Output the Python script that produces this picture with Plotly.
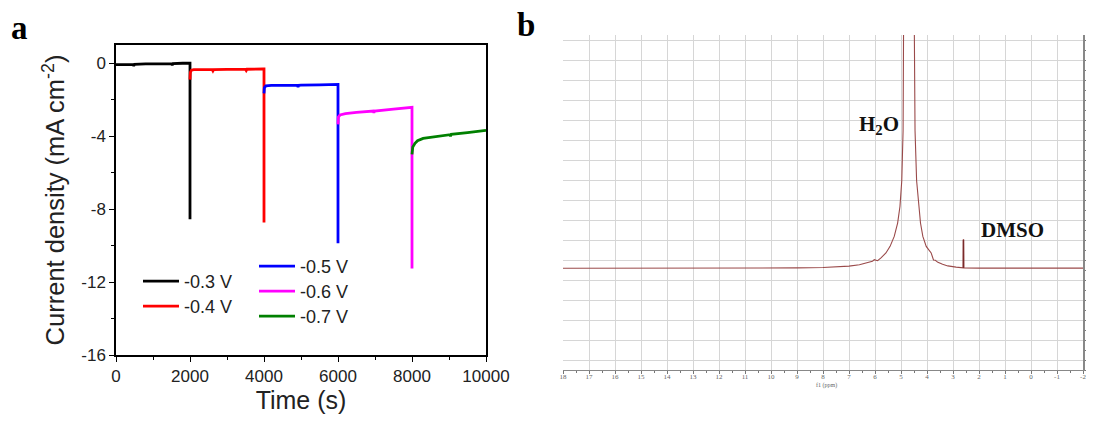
import plotly.graph_objects as go

# ---------------- Panel a data: chronoamperometry ----------------
t_03 = [0, 200, 460, 480, 500, 800, 1200, 1500, 1520, 1540, 1800, 1990, 2000, 2000]
j_03 = [-0.08, -0.07, -0.06, -0.14, -0.06, -0.04, -0.02, -0.02, -0.1, -0.02, 0.0, 0.0, 0.0, -8.56]

t_04 = [2000, 2010, 2040, 2100, 2500, 2600, 2620, 2640, 3000, 3500, 3520, 3540, 3990, 4000, 4000]
j_04 = [-0.9, -0.5, -0.38, -0.35, -0.35, -0.35, -0.42, -0.35, -0.34, -0.33, -0.4, -0.33, -0.31, -0.31, -8.74]

t_05 = [4000, 4010, 4050, 4200, 4900, 4920, 4940, 5000, 5500, 5990, 6000, 6000]
j_05 = [-1.65, -1.35, -1.24, -1.21, -1.21, -1.3, -1.21, -1.2, -1.19, -1.16, -1.16, -9.87]

t_06 = [6000, 6010, 6054, 6200, 6500, 6955, 6970, 6990, 7500, 7946, 7990, 8000, 8000]
j_06 = [-3.35, -2.95, -2.84, -2.76, -2.7, -2.62, -2.72, -2.62, -2.52, -2.44, -2.42, -2.42, -11.25]

t_07 = [8000, 8020, 8081, 8150, 8300, 8570, 9024, 9040, 9060, 9500, 9970, 10000]
j_07 = [-5.0, -4.6, -4.39, -4.25, -4.12, -4.03, -3.92, -4.0, -3.9, -3.8, -3.7, -3.68]

series_names = ["-0.3 V", "-0.4 V", "-0.5 V", "-0.6 V", "-0.7 V"]
series_colors = ["#000000", "#ff0000", "#0000ff", "#ff00ff", "#008000"]

a_xticks = [0, 2000, 4000, 6000, 8000, 10000]
a_xticklabels = ["0", "2000", "4000", "6000", "8000", "10000"]
a_yticks = [0, -4, -8, -12, -16]
a_yticklabels = ["0", "-4", "-8", "-12", "-16"]

# ---------------- Panel b data: 1H NMR spectrum ----------------
nmr_ppm = [18.0, 16.0, 14.0, 12.0, 10.0, 9.0, 8.0, 7.0, 6.6, 6.35, 6.1, 6.03, 5.9, 5.77,
           5.58, 5.42, 5.26, 5.13, 5.04, 4.97, 4.92, 4.90, 4.70,
           4.49, 4.46, 4.40, 4.32, 4.25, 4.16, 4.03, 3.84, 3.75, 3.68, 3.58, 3.4, 3.2, 2.88, 2.7,
           2.61, 2.60, 2.59, 2.58, 2.4, 2.0, 1.0, 0.0, -1.0, -2.0]
nmr_int = [3.60, 3.60, 3.60, 3.60, 3.61, 3.62, 3.64, 3.71, 3.78, 3.87, 3.95, 4.03, 3.98, 4.12,
           4.37, 4.70, 5.20, 5.87, 6.70, 8.00, 10.5, 16.0, 40.0,
           16.0, 10.5, 8.00, 6.70, 5.87, 5.20, 4.70, 4.37, 4.02, 4.0, 3.9, 3.8, 3.72, 3.66, 3.63,
           3.62, 5.03, 5.03, 3.62, 3.61, 3.61, 3.61, 3.61, 3.61, 3.61]
dmso_ppm = [2.60, 2.60]
dmso_int = [3.62, 5.03]

b_xticks = list(range(18, -3, -1))
b_xticklabels = [str(v) for v in b_xticks]
b_yticks = list(range(-1, 16))
b_yticklabels = [str(v) for v in b_yticks]

# ---------------- Figure ----------------
# The page places the plot 8 px in from the top-left corner (body margin),
# so the figure is 8 px smaller and all window positions are shifted by 8.
OFF = 8
W, H = 1094 - OFF, 421 - OFF
def px_x(x):
    return (x - OFF) / W
def px_y(y):
    return 1 - (y - OFF) / H

fig = go.Figure()

series_t = [t_03, t_04, t_05, t_06, t_07]
series_j = [j_03, j_04, j_05, j_06, j_07]
legend_ids = ["legend", "legend2", "legend3", "legend4", "legend5"]
# legend box top-left positions in window pixels
legend_pos = [(138, 263), (138, 288), (254, 248), (254, 273), (254, 298)]
for t, j, name, col, lg in zip(series_t, series_j, series_names, series_colors, legend_ids):
    fig.add_trace(go.Scatter(x=t, y=j, mode="lines", name=name,
                             line=dict(color=col, width=2.8),
                             xaxis="x", yaxis="y", legend=lg))

fig.add_trace(go.Scatter(x=nmr_ppm, y=nmr_int, mode="lines", showlegend=False,
                         line=dict(color="#9a4a4a", width=1.1), xaxis="x2", yaxis="y2"))
fig.add_trace(go.Scatter(x=dmso_ppm, y=dmso_int, mode="lines", showlegend=False,
                         line=dict(color="#7a2a2a", width=1.4), xaxis="x2", yaxis="y2"))

font_sans = "Liberation Sans, Arial, sans-serif"
font_serif = "Liberation Serif, Times New Roman, serif"

legend_layouts = {}
for lg, (lx, ly) in zip(legend_ids, legend_pos):
    legend_layouts[lg] = dict(x=px_x(lx), y=px_y(ly), xanchor="left", yanchor="top",
                              bgcolor="rgba(0,0,0,0)", borderwidth=0,
                              font=dict(size=18, family=font_sans, color="#222222"),
                              itemwidth=36)

fig.update_layout(
    width=W, height=H,
    margin=dict(l=0, r=0, t=0, b=0, autoexpand=False),
    paper_bgcolor="white", plot_bgcolor="white",
    font=dict(family=font_sans, color="#111111"),
    xaxis=dict(domain=[px_x(116), px_x(486)], range=[0, 10000], automargin=False,
               showline=True, linecolor="black", linewidth=1.5, mirror=True,
               ticks="outside", ticklen=5, tickwidth=1.3, tickcolor="black",
               tickvals=a_xticks, ticktext=a_xticklabels,
               minor=dict(ticks="outside", ticklen=3, tickwidth=1.2, tickcolor="black",
                          tickvals=[1000, 3000, 5000, 7000, 9000]),
               showgrid=False, zeroline=False,
               tickfont=dict(size=17, family=font_sans, color="#222222"),
               title=dict(text="Time (s)", font=dict(size=25, family=font_sans, color="#222222"),
                          standoff=0),
               anchor="y"),
    yaxis=dict(domain=[px_y(355), px_y(45)], range=[-16, 1], automargin=False,
               showline=True, linecolor="black", linewidth=1.5, mirror=True,
               ticks="outside", ticklen=5, tickwidth=1.3, tickcolor="black",
               tickvals=a_yticks, ticktext=a_yticklabels,
               minor=dict(ticks="outside", ticklen=3, tickwidth=1.2, tickcolor="black",
                          tickvals=[-2, -6, -10, -14]),
               showgrid=False, zeroline=False,
               tickfont=dict(size=17, family=font_sans, color="#222222"),
               title=dict(text="Current density (mA cm<sup>-2</sup>)",
                          font=dict(size=25.5, family=font_sans, color="#222222"), standoff=9),
               anchor="x"),
    xaxis2=dict(domain=[px_x(563), px_x(1083)], range=[18, -2], automargin=False,
                showline=True, linecolor="#888888", linewidth=1,
                ticks="outside", ticklen=3, tickwidth=1, tickcolor="#777777",
                tickvals=b_xticks, ticktext=b_xticklabels, ticklabelstandoff=-3,
                minor=dict(ticks="outside", ticklen=2, tickcolor="#777777", dtick=0.5, showgrid=False),
                showgrid=True, gridcolor="#d6d6d6", gridwidth=1, zeroline=False,
                tickfont=dict(size=7, family=font_serif, color="#666666"),
                anchor="y2"),
    yaxis2=dict(domain=[px_y(370), px_y(35)], range=[-1.5, 15.3], side="right", automargin=False,
                showline=True, linecolor="#888888", linewidth=1.5,
                ticks="outside", ticklen=3, tickwidth=1, tickcolor="#777777",
                tickvals=b_yticks, ticktext=b_yticklabels, ticklabelstandoff=-2,
                minor=dict(ticks="outside", ticklen=2, tickcolor="#777777", dtick=0.5, showgrid=False),
                showgrid=True, gridcolor="#d6d6d6", gridwidth=1, zeroline=False,
                tickfont=dict(size=7, family=font_serif, color="#666666"),
                anchor="x2"),
    annotations=[
        dict(text="<b>a</b>", x=px_x(19), y=px_y(28), xref="paper", yref="paper",
             xanchor="center", yanchor="middle",
             showarrow=False, font=dict(size=33, family=font_serif, color="black")),
        dict(text="<b>b</b>", x=px_x(526), y=px_y(25), xref="paper", yref="paper",
             xanchor="center", yanchor="middle",
             showarrow=False, font=dict(size=33, family=font_serif, color="black")),
        dict(text="<b>H<sub>2</sub>O</b>", x=5.85, y=10.8, xref="x2", yref="y2",
             xanchor="center", yanchor="middle",
             showarrow=False, font=dict(size=21, family=font_serif, color="#111111")),
        dict(text="<b>DMSO</b>", x=0.7, y=5.5, xref="x2", yref="y2",
             xanchor="center", yanchor="middle",
             showarrow=False, font=dict(size=21, family=font_serif, color="#111111")),
        dict(text="f1 (ppm)", x=7.85, y=px_y(385), xref="x2", yref="paper",
             xanchor="center", yanchor="middle",
             showarrow=False, font=dict(size=6, family=font_serif, color="#666666")),
    ],
)
fig.update_layout(**legend_layouts)

fig.write_html("out.html")
